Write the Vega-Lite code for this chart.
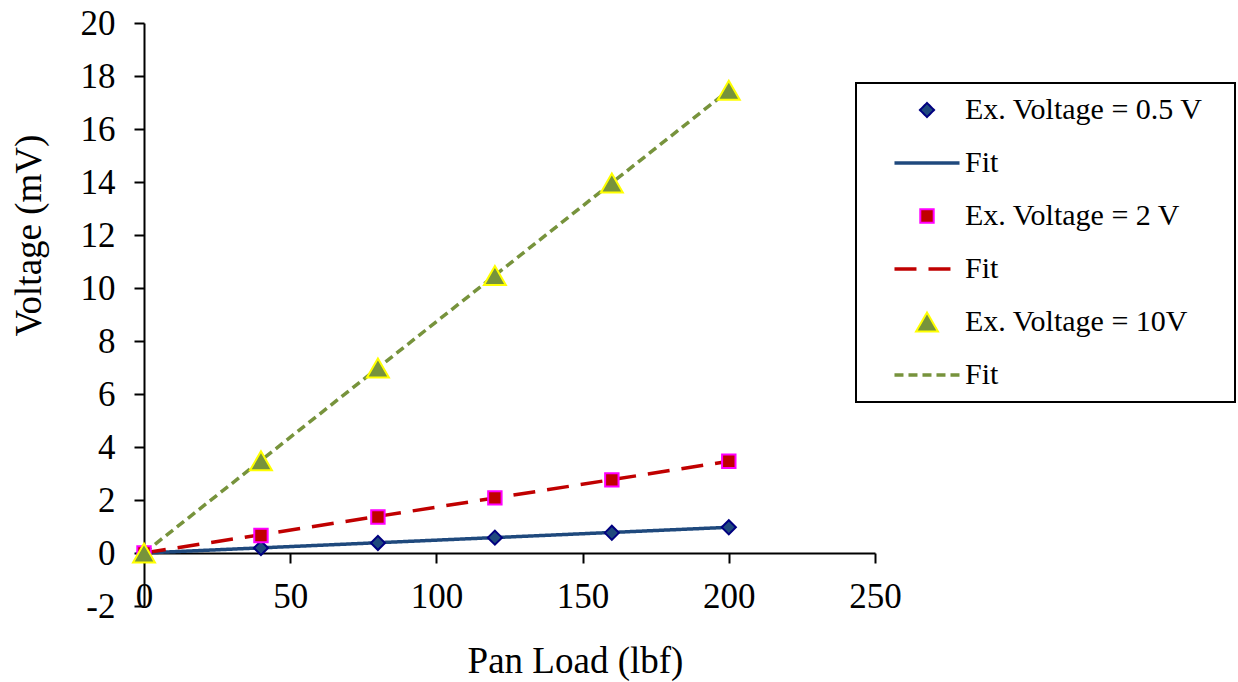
{
  "$schema": "https://vega.github.io/schema/vega-lite/v6.json",
  "width": 731,
  "height": 583,
  "autosize": {"type": "none"},
  "padding": {"left": 144, "top": 23, "right": 363, "bottom": 76},
  "background": "white",
  "config": {
    "font": "Liberation Serif",
    "view": {"stroke": null},
    "axis": {
      "grid": false,
      "domainColor": "black",
      "domainWidth": 2,
      "tickColor": "black",
      "tickWidth": 2,
      "tickSize": 10,
      "labelColor": "black",
      "labelFontSize": 35,
      "labelFont": "Liberation Serif",
      "titleFont": "Liberation Serif",
      "titleFontSize": 37,
      "titleFontWeight": "normal",
      "titleColor": "black",
      "labelOverlap": false,
      "labelFlush": false
    },
    "legend": {
      "orient": "none",
      "legendX": 712,
      "legendY": 60,
      "padding": 12,
      "symbolOffset": 44,
      "labelOffset": 23,
      "rowPadding": 23,
      "labelFont": "Liberation Serif",
      "labelFontSize": 30,
      "labelColor": "black",
      "labelLimit": 400,
      "strokeColor": "black",
      "fillColor": "white",
      "titleOrient": "right",
      "titlePadding": 20,
      "titleFontSize": 2
    }
  },
  "datasets": {
    "points": [
      {"load": 0, "mv": 0, "series": "Ex. Voltage = 0.5 V"},
      {"load": 40, "mv": 0.19, "series": "Ex. Voltage = 0.5 V"},
      {"load": 80, "mv": 0.38, "series": "Ex. Voltage = 0.5 V"},
      {"load": 120, "mv": 0.58, "series": "Ex. Voltage = 0.5 V"},
      {"load": 160, "mv": 0.76, "series": "Ex. Voltage = 0.5 V"},
      {"load": 200, "mv": 0.97, "series": "Ex. Voltage = 0.5 V"},
      {"load": 0, "mv": 0, "series": "Ex. Voltage = 2 V"},
      {"load": 40, "mv": 0.66, "series": "Ex. Voltage = 2 V"},
      {"load": 80, "mv": 1.36, "series": "Ex. Voltage = 2 V"},
      {"load": 120, "mv": 2.08, "series": "Ex. Voltage = 2 V"},
      {"load": 160, "mv": 2.76, "series": "Ex. Voltage = 2 V"},
      {"load": 200, "mv": 3.46, "series": "Ex. Voltage = 2 V"},
      {"load": 0, "mv": 0, "series": "Ex. Voltage = 10V"},
      {"load": 40, "mv": 3.48, "series": "Ex. Voltage = 10V"},
      {"load": 80, "mv": 6.98, "series": "Ex. Voltage = 10V"},
      {"load": 120, "mv": 10.47, "series": "Ex. Voltage = 10V"},
      {"load": 160, "mv": 13.96, "series": "Ex. Voltage = 10V"},
      {"load": 200, "mv": 17.46, "series": "Ex. Voltage = 10V"}
    ],
    "fits": [
      {"load": 0, "mv": 0, "series": "Fit 0.5 V"},
      {"load": 200, "mv": 0.97, "series": "Fit 0.5 V"},
      {"load": 0, "mv": 0, "series": "Fit 2 V"},
      {"load": 200, "mv": 3.46, "series": "Fit 2 V"},
      {"load": 0, "mv": 0, "series": "Fit 10V"},
      {"load": 200, "mv": 17.46, "series": "Fit 10V"}
    ]
  },
  "layer": [
    {
      "data": {"name": "fits"},
      "mark": {"type": "line", "strokeCap": "butt"},
      "encoding": {
        "x": {
          "field": "load", "type": "quantitative",
          "scale": {"domain": [0, 250], "nice": false, "zero": false},
          "axis": {
            "values": [0, 50, 100, 150, 200, 250],
            "offset": -53,
            "labelBaseline": "alphabetic",
            "labelPadding": 44,
            "title": "Pan Load (lbf)",
            "titleX": 431,
            "titleY": 119,
            "titleBaseline": "alphabetic",
            "titleAlign": "center",
            "titleAnchor": null
          }
        },
        "y": {
          "field": "mv", "type": "quantitative",
          "scale": {"domain": [-2, 20], "nice": false, "zero": false},
          "axis": {
            "values": [-2, 0, 2, 4, 6, 8, 10, 12, 14, 16, 18, 20],
            "labelExpr": "datum.value < 0 ? '-' + abs(datum.value) : '' + datum.value",
            "labelPadding": 19,
            "title": "Voltage (mV)",
            "titleX": -104,
            "titleY": 212,
            "titleAngle": -90,
            "titleBaseline": "alphabetic",
            "titleAlign": "center",
            "titleAnchor": null
          }
        },
        "stroke": {
          "field": "series", "type": "nominal",
          "scale": {
            "domain": ["Ex. Voltage = 0.5 V", "Fit 0.5 V", "Ex. Voltage = 2 V", "Fit 2 V", "Ex. Voltage = 10V", "Fit 10V"],
            "range": ["#000080", "#1F497D", "#FF00FF", "#C00000", "#FFFF00", "#77933C"]
          },
          "legend": {"title": " ", "labelExpr": "indexof(datum.label, 'Fit') == 0 ? 'Fit' : datum.label", "encode": {"legend": {"update": {"strokeWidth": {"value": 2}}}}}
        },
        "strokeDash": {
          "field": "series", "type": "nominal",
          "scale": {
            "domain": ["Ex. Voltage = 0.5 V", "Fit 0.5 V", "Ex. Voltage = 2 V", "Fit 2 V", "Ex. Voltage = 10V", "Fit 10V"],
            "range": [[1, 0], [1, 0], [1, 0], [22, 12], [1, 0], [9, 5]]
          },
          "legend": {"title": " ", "labelExpr": "indexof(datum.label, 'Fit') == 0 ? 'Fit' : datum.label", "encode": {"legend": {"update": {"strokeWidth": {"value": 2}}}}}
        },
        "strokeWidth": {
          "field": "series", "type": "nominal",
          "scale": {
            "type": "ordinal",
            "domain": ["Ex. Voltage = 0.5 V", "Fit 0.5 V", "Ex. Voltage = 2 V", "Fit 2 V", "Ex. Voltage = 10V", "Fit 10V"],
            "range": [2, 3.5, 2, 3.5, 2, 3.5]
          },
          "legend": {"title": " ", "labelExpr": "indexof(datum.label, 'Fit') == 0 ? 'Fit' : datum.label", "encode": {"legend": {"update": {"strokeWidth": {"value": 2}}}}}
        }
      }
    },
    {
      "data": {"name": "points"},
      "mark": {"type": "point", "filled": true, "opacity": 1},
      "encoding": {
        "x": {"field": "load", "type": "quantitative"},
        "y": {"field": "mv", "type": "quantitative"},
        "shape": {
          "field": "series", "type": "nominal",
          "scale": {
            "domain": ["Ex. Voltage = 0.5 V", "Fit 0.5 V", "Ex. Voltage = 2 V", "Fit 2 V", "Ex. Voltage = 10V", "Fit 10V"],
            "range": ["diamond", "M-3,0H3", "square", "M-3,0H3", "triangle-up", "M-3,0H3"]
          },
          "legend": {"title": " ", "labelExpr": "indexof(datum.label, 'Fit') == 0 ? 'Fit' : datum.label", "encode": {"legend": {"update": {"strokeWidth": {"value": 2}}}}}
        },
        "fill": {
          "field": "series", "type": "nominal",
          "scale": {
            "domain": ["Ex. Voltage = 0.5 V", "Fit 0.5 V", "Ex. Voltage = 2 V", "Fit 2 V", "Ex. Voltage = 10V", "Fit 10V"],
            "range": ["#1F497D", "transparent", "#C00000", "transparent", "#77933C", "transparent"]
          },
          "legend": {"title": " ", "labelExpr": "indexof(datum.label, 'Fit') == 0 ? 'Fit' : datum.label", "encode": {"legend": {"update": {"strokeWidth": {"value": 2}}}}}
        },
        "stroke": {
          "field": "series", "type": "nominal",
          "scale": {
            "domain": ["Ex. Voltage = 0.5 V", "Fit 0.5 V", "Ex. Voltage = 2 V", "Fit 2 V", "Ex. Voltage = 10V", "Fit 10V"],
            "range": ["#000080", "#1F497D", "#FF00FF", "#C00000", "#FFFF00", "#77933C"]
          },
          "legend": {"title": " ", "labelExpr": "indexof(datum.label, 'Fit') == 0 ? 'Fit' : datum.label", "encode": {"legend": {"update": {"strokeWidth": {"value": 2}}}}}
        },
        "strokeWidth": {
          "field": "series", "type": "nominal",
          "scale": {
            "type": "ordinal",
            "domain": ["Ex. Voltage = 0.5 V", "Fit 0.5 V", "Ex. Voltage = 2 V", "Fit 2 V", "Ex. Voltage = 10V", "Fit 10V"],
            "range": [2, 3.5, 2, 3.5, 2, 3.5]
          },
          "legend": {"title": " ", "labelExpr": "indexof(datum.label, 'Fit') == 0 ? 'Fit' : datum.label", "encode": {"legend": {"update": {"strokeWidth": {"value": 2}}}}}
        },
        "size": {
          "field": "series", "type": "nominal",
          "scale": {
            "type": "ordinal",
            "domain": ["Ex. Voltage = 0.5 V", "Fit 0.5 V", "Ex. Voltage = 2 V", "Fit 2 V", "Ex. Voltage = 10V", "Fit 10V"],
            "range": [200, 470, 180, 470, 480, 470]
          },
          "legend": {"title": " ", "labelExpr": "indexof(datum.label, 'Fit') == 0 ? 'Fit' : datum.label", "encode": {"legend": {"update": {"strokeWidth": {"value": 2}}}}}
        }
      }
    }
  ]
}
